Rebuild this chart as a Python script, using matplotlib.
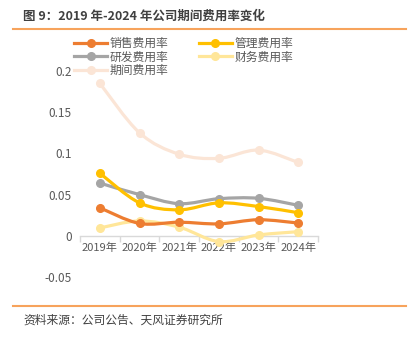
import matplotlib
matplotlib.use("Agg")
import matplotlib.pyplot as plt
from matplotlib.path import Path
from matplotlib.patches import PathPatch
from matplotlib.lines import Line2D
import numpy as np

plt.rcParams['font.family'] = ['Noto Sans CJK SC', 'DejaVu Sans']

# 数据
years = ['2019年', '2020年', '2021年', '2022年', '2023年', '2024年']
sales_rate = [0.034, 0.015, 0.0165, 0.0145, 0.0195, 0.0155]
admin_rate = [0.076, 0.040, 0.0315, 0.040, 0.0355, 0.028]
rd_rate = [0.064, 0.050, 0.039, 0.045, 0.0455, 0.037]
fin_rate = [0.0095, 0.018, 0.0105, -0.007, 0.001, 0.005]
period_rate = [0.185, 0.125, 0.099, 0.094, 0.104, 0.089]

series = [
    ('销售费用率', sales_rate, '#ED7D31'),
    ('研发费用率', rd_rate, '#A5A5A5'),
    ('期间费用率', period_rate, '#FBE5D6'),
    ('管理费用率', admin_rate, '#FFC000'),
    ('财务费用率', fin_rate, '#FFE699'),
]
draw_order = ['期间费用率', '财务费用率', '研发费用率', '管理费用率', '销售费用率']

W, H = 415, 348
fig = plt.figure(figsize=(W / 100, H / 100), dpi=100)
ax = fig.add_axes([80 / W, 1 - 277 / H, 238 / W, 206 / H])


def smooth_path(xs, ys):
    # 类似Excel平滑线的贝塞尔曲线
    pts = np.column_stack([xs, ys]).astype(float)
    n = len(pts)
    verts = [pts[0]]
    codes = [Path.MOVETO]
    for i in range(n - 1):
        p0 = pts[max(i - 1, 0)]
        p1 = pts[i]
        p2 = pts[i + 1]
        p3 = pts[min(i + 2, n - 1)]
        c1 = p1 + (p2 - p0) / 6
        c2 = p2 - (p3 - p1) / 6
        verts += [c1, c2, p2]
        codes += [Path.CURVE4] * 3
    return Path(verts, codes)


x = np.arange(len(years))
lookup = {name: (vals, col) for name, vals, col in series}
for z, name in enumerate(draw_order):
    vals, col = lookup[name]
    patch = PathPatch(smooth_path(x, vals), facecolor='none', edgecolor=col,
                      lw=2.3, zorder=3 + z, capstyle='round', joinstyle='round')
    patch.set_clip_on(False)
    ax.add_patch(patch)
    ax.plot(x, vals, 'o', color=col, ms=5.5, zorder=3 + z, clip_on=False)

ax.set_xlim(-0.5, len(years) - 0.5)
ax.set_ylim(-0.05, 0.2)
ax.set_yticks([-0.05, 0, 0.05, 0.1, 0.15, 0.2])
ax.set_yticklabels(['-0.05', '0', '0.05', '0.1', '0.15', '0.2'])
ax.set_xticks(x)
ax.set_xticklabels(years)
ax.set_xticks(np.arange(-0.5, len(years), 1), minor=True)

for s in ['top', 'right', 'left']:
    ax.spines[s].set_visible(False)
ax.spines['bottom'].set_position(('data', 0))
ax.spines['bottom'].set_color('#D9D9D9')
ax.spines['bottom'].set_linewidth(1)

ax.tick_params(axis='y', length=0, pad=6, labelsize=8.5, labelcolor='#595959')
ax.tick_params(axis='x', which='major', length=0, pad=5, labelsize=8, labelcolor='#595959')
ax.tick_params(axis='x', which='minor', length=4, color='#D9D9D9', width=1)

handles = [Line2D([], [], color=col, lw=2.3, marker='o', ms=5.5) for _, _, col in series]
labels = [name for name, _, _ in series]
fig.legend(handles, labels, ncol=2, loc='upper left', bbox_to_anchor=(74 / W, 1 - 37 / H),
           frameon=False, fontsize=8.5, handlelength=2.8, handletextpad=0.2,
           columnspacing=2.6, labelspacing=0.05, labelcolor='#595959',
           borderaxespad=0, borderpad=0)

# 标题与来源
fig.text(23 / W, 1 - 16 / H, '图 9：2019 年-2024 年公司期间费用率变化', fontsize=9,
         fontweight='bold', color='#404040', va='center', ha='left')
fig.add_artist(Line2D([13 / W, 406 / W], [1 - 29 / H, 1 - 29 / H], color='#F7A35C', lw=1.5))
fig.add_artist(Line2D([13 / W, 406 / W], [1 - 306 / H, 1 - 306 / H], color='#F7A35C', lw=1.5))
fig.text(23 / W, 1 - 320 / H, '资料来源：公司公告、天风证券研究所', fontsize=8.5,
         color='#404040', va='center', ha='left')

fig.savefig('out.png', dpi=100)
